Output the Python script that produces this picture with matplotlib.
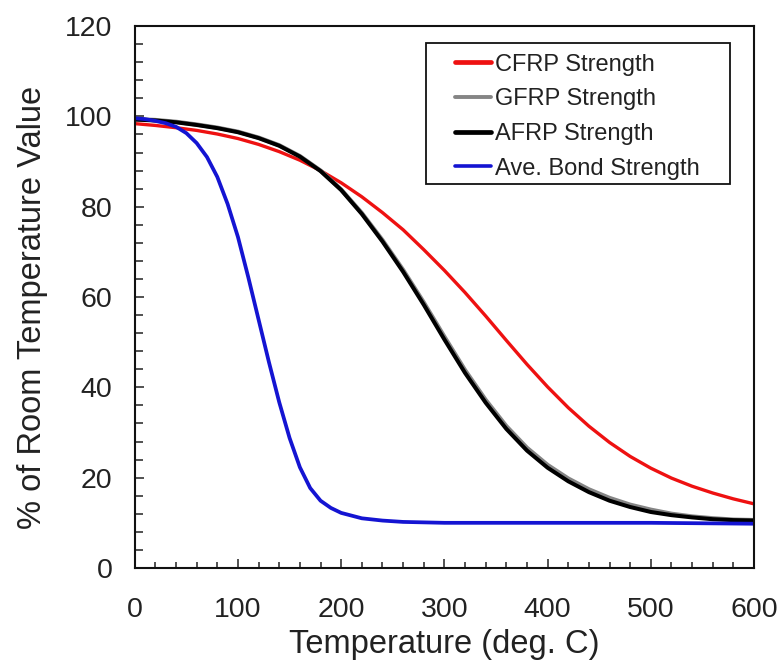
import matplotlib
matplotlib.use("Agg")
import matplotlib.pyplot as plt
from matplotlib.ticker import MultipleLocator
from matplotlib.patches import Rectangle

plt.rcParams['font.family'] = ['Liberation Sans', 'DejaVu Sans']

# ---- data ----
temps = [0, 20, 40, 60, 80, 100, 120, 140, 160, 180, 200, 220, 240, 260, 280,
         300, 320, 340, 360, 380, 400, 420, 440, 460, 480, 500, 520, 540, 560, 580, 600]

cfrp = [98.4, 98.0, 97.5, 96.9, 96.1, 95.1, 93.8, 92.2, 90.3, 88.0, 85.3, 82.2, 78.7, 74.9, 70.5,
        65.9, 61.0, 55.8, 50.4, 45.1, 40.1, 35.5, 31.4, 27.8, 24.7, 22.1, 19.9, 18.1, 16.6, 15.3, 14.2]

gfrp = [99.4, 99.2, 98.8, 98.2, 97.5, 96.6, 95.3, 93.6, 91.2, 88.0, 83.8, 78.6, 72.6, 66.0, 58.8,
        51.2, 43.8, 37.2, 31.4, 26.6, 22.8, 19.8, 17.4, 15.5, 14.0, 12.9, 12.0, 11.4, 11.0, 10.7, 10.6]

afrp = [99.3, 99.1, 98.7, 98.1, 97.4, 96.5, 95.2, 93.5, 91.1, 87.9, 83.7, 78.4, 72.3, 65.6, 58.3,
        50.6, 43.2, 36.6, 30.8, 26.0, 22.2, 19.2, 16.8, 14.9, 13.5, 12.4, 11.7, 11.2, 10.8, 10.6, 10.5]

bond_temps = [0, 10, 20, 30, 40, 50, 60, 70, 80, 90, 100, 110, 120, 130, 140, 150, 160, 170, 180, 190, 200,
              220, 240, 260, 280, 300, 350, 400, 450, 500, 550, 600]
bond = [99.6, 99.4, 99.0, 98.5, 97.7, 96.3, 94.1, 91.0, 86.6, 80.6, 73.3, 64.4, 55.0, 45.6, 36.7, 28.8, 22.3,
        17.7, 14.9, 13.3, 12.2, 11.0, 10.5, 10.2, 10.1, 10.0, 10.0, 10.0, 10.0, 10.0, 9.9, 9.8]

labels = ["CFRP Strength", "GFRP Strength", "AFRP Strength", "Ave. Bond Strength"]
x_ticks = [0, 100, 200, 300, 400, 500, 600]
y_ticks = [0, 20, 40, 60, 80, 100, 120]

W, H = 781, 669

# ---- figure ----
fig = plt.figure(figsize=(W / 100, H / 100), dpi=100)
ax = fig.add_axes([0.1725, 0.151, 0.793, 0.810])

l1, = ax.plot(temps, cfrp, color='#ee1111', lw=2.4, label=labels[0], solid_capstyle='round')
l2, = ax.plot(temps, gfrp, color='#858585', lw=3.1, label=labels[1], solid_capstyle='round')
l3, = ax.plot(temps, afrp, color='#000000', lw=2.9, label=labels[2], solid_capstyle='round')
l4, = ax.plot(bond_temps, bond, color='#1414d2', lw=2.7, label=labels[3], solid_capstyle='round')

ax.set_xlim(0, 600)
ax.set_ylim(0, 120)
ax.set_xticks(x_ticks)
ax.set_yticks(y_ticks)
ax.xaxis.set_minor_locator(MultipleLocator(20))
ax.yaxis.set_minor_locator(MultipleLocator(4))

tc = '#222222'
ax.tick_params(axis='both', which='major', direction='in', length=6.5, width=1.1,
               labelsize=20.5, colors='#222222', labelcolor=tc)
ax.tick_params(axis='x', which='major', pad=21)
ax.tick_params(axis='y', which='major', pad=16)
ax.tick_params(axis='x', which='minor', direction='in', length=4.5, width=1.1, colors='#222222')
ax.tick_params(axis='y', which='minor', direction='in', length=6.0, width=1.1, colors='#222222')
ax.tick_params(top=False, right=False, which='both')

for s in ax.spines.values():
    s.set_linewidth(1.5)
    s.set_color('#111111')

ax.set_xlabel("Temperature (deg. C)", fontsize=23.5, color=tc)
ax.set_ylabel("% of Room Temperature Value", fontsize=23.5, color=tc)
ax.xaxis.set_label_coords(0.5003, -0.113)
ax.yaxis.set_label_coords(-0.140, 0.48)

# legend box (frame drawn separately to reproduce the wide left margin)
frame = Rectangle((426 / W, 1 - 184 / H), 304 / W, 141 / H, transform=fig.transFigure,
                  facecolor='white', edgecolor='#111111', lw=1.3, zorder=4)
ax.add_patch(frame)
frame.set_clip_on(False)

leg = ax.legend(handles=[l1, l2, l3, l4], loc='upper left',
                bbox_to_anchor=(455 / W, 1 - 53.5 / H), bbox_transform=fig.transFigure,
                borderaxespad=0, borderpad=0, fontsize=17, frameon=False,
                handlelength=1.52, handletextpad=0.17, labelspacing=0.54)
leg.set_zorder(5)
for t in leg.get_texts():
    t.set_color(tc)
for h, w in zip(leg.get_lines(), [3.4, 2.8, 3.4, 2.6]):
    h.set_linewidth(w)
    h.set_solid_capstyle('round')

fig.savefig("out.png", dpi=100)
